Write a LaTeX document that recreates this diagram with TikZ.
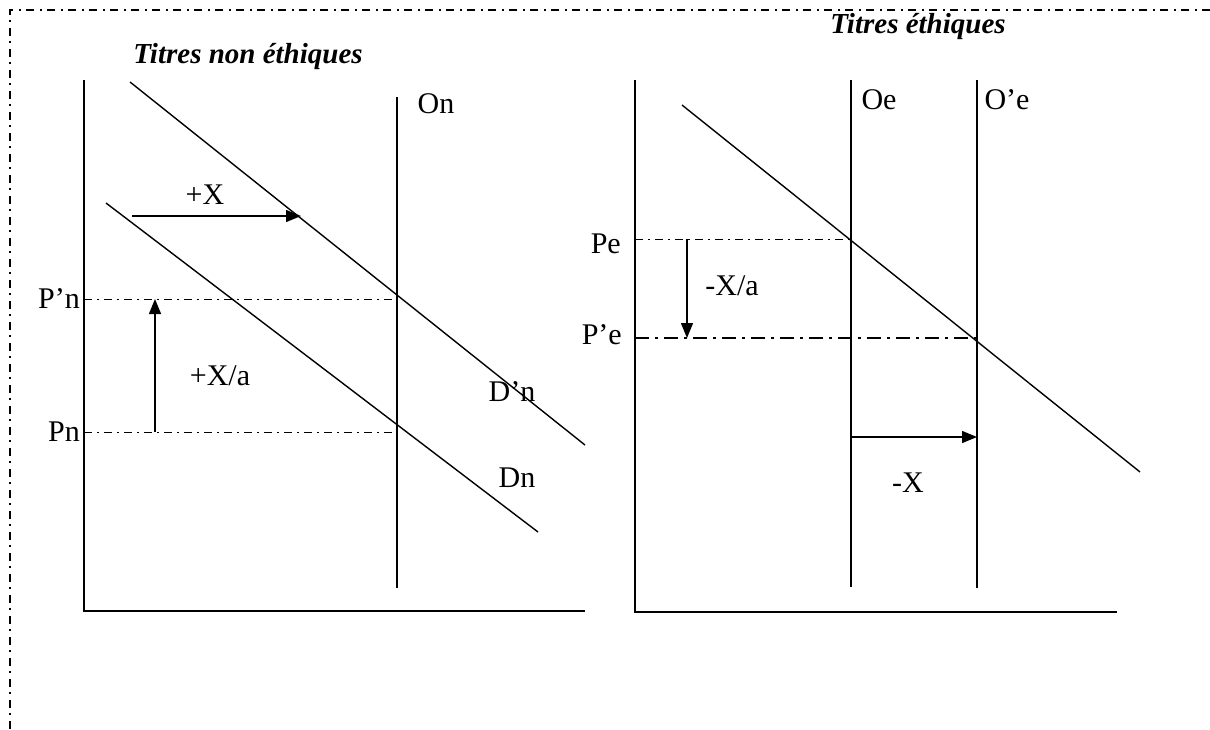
\documentclass[tikz,border=0pt]{standalone}
\usepackage{fontspec}
\setmainfont{Liberation Serif}
\usetikzlibrary{arrows.meta}
\begin{document}
\begin{tikzpicture}[x=1pt,y=-1pt,
  solid line/.style={line width=1.4pt,line cap=butt},
  axisline/.style={line width=1.6pt},
  guide/.style={line width=1pt,dash pattern=on 8pt off 5pt on 2pt off 5pt},
  guidebold/.style={line width=1.8pt,dash pattern=on 14pt off 6pt on 3pt off 6pt},
  border/.style={line width=1.8pt,dash pattern=on 8pt off 5pt on 2pt off 6pt},
  shift arrow/.style={line width=1.4pt,-{Triangle[length=15pt,width=12pt]}},
  lbl/.style={font=\fontsize{30}{34}\selectfont,inner sep=0pt},
  ttl/.style={font=\fontsize{29}{33}\selectfont\bfseries\itshape,inner sep=0pt}]
\useasboundingbox (0,0) rectangle (1210,729);
% border
\coordinate (bTL) at (10,10);
\coordinate (bTR) at (1210,10);
\coordinate (bBL) at (10,729);
\draw[border] (bTR) -- (bTL) -- (bBL);

% ---------- left panel ----------
\node[ttl] (t1) at (248,57) {Titres non éthiques};
\coordinate (Ly) at (84,80);
\coordinate (Lo) at (84,611);
\coordinate (Lx) at (585,611);
\draw[axisline] (Ly) -- (Lo) -- (Lx);
\coordinate (On1) at (397,97);
\coordinate (On2) at (397,588);
\draw[solid line] (On1) -- (On2);
\coordinate (Dp1) at (130,82);
\coordinate (Dp2) at (585,445);
\draw[solid line] (Dp1) -- (Dp2);
\coordinate (Dn1) at (106,203);
\coordinate (Dn2) at (538,532);
\draw[solid line] (Dn1) -- (Dn2);
\coordinate (Pp0) at (84,299);
\coordinate (Pp1) at (397,299);
\draw[guide] (Pp0) -- (Pp1);
\coordinate (Pn0) at (84,432);
\coordinate (Pn1) at (397,432);
\draw[guide] (Pn0) -- (Pn1);
\coordinate (ax1) at (132,216);
\coordinate (ax2) at (301,216);
\draw[shift arrow] (ax1) -- (ax2);
\coordinate (ay1) at (155,432);
\coordinate (ay2) at (155,299);
\draw[shift arrow] (ay1) -- (ay2);
\node[lbl] (lOn) at (436,104) {On};
\node[lbl] (lX) at (205,195) {+X};
\node[lbl] (lXa) at (220,376) {+X/a};
\node[lbl,anchor=east] (lPp) at (80,299) {P’n};
\node[lbl,anchor=east] (lPn) at (80,432) {Pn};
\node[lbl] (lDp) at (512,392) {D’n};
\node[lbl] (lDn) at (517,478) {Dn};

% ---------- right panel ----------
\node[ttl] (t2) at (918,27) {Titres éthiques};
\coordinate (Ry) at (635,80);
\coordinate (Ro) at (635,612);
\coordinate (Rx) at (1117,612);
\draw[axisline] (Ry) -- (Ro) -- (Rx);
\coordinate (Oe1) at (851,80);
\coordinate (Oe2) at (851,587);
\draw[solid line] (Oe1) -- (Oe2);
\coordinate (Op1) at (977,80);
\coordinate (Op2) at (977,588);
\draw[solid line] (Op1) -- (Op2);
\coordinate (De1) at (682,105);
\coordinate (De2) at (1140,472);
\draw[solid line] (De1) -- (De2);
\coordinate (Pe0) at (635,239);
\coordinate (Pe1) at (851,239);
\draw[guide] (Pe0) -- (Pe1);
\coordinate (Pq0) at (635,338);
\coordinate (Pq1) at (977,338);
\draw[guidebold] (Pq0) -- (Pq1);
\coordinate (by1) at (687,239);
\coordinate (by2) at (687,338);
\draw[shift arrow] (by1) -- (by2);
\coordinate (bx1) at (851,437);
\coordinate (bx2) at (977,437);
\draw[shift arrow] (bx1) -- (bx2);
\node[lbl] (lOe) at (879,100) {Oe};
\node[lbl] (lOpe) at (1007,100) {O’e};
\node[lbl,anchor=east] (lPe) at (621,244) {Pe};
\node[lbl,anchor=east] (lPqe) at (622,335) {P’e};
\node[lbl] (lXa2) at (732,286) {-X/a};
\node[lbl] (lX2) at (908,483) {-X};
\end{tikzpicture}
\end{document}
